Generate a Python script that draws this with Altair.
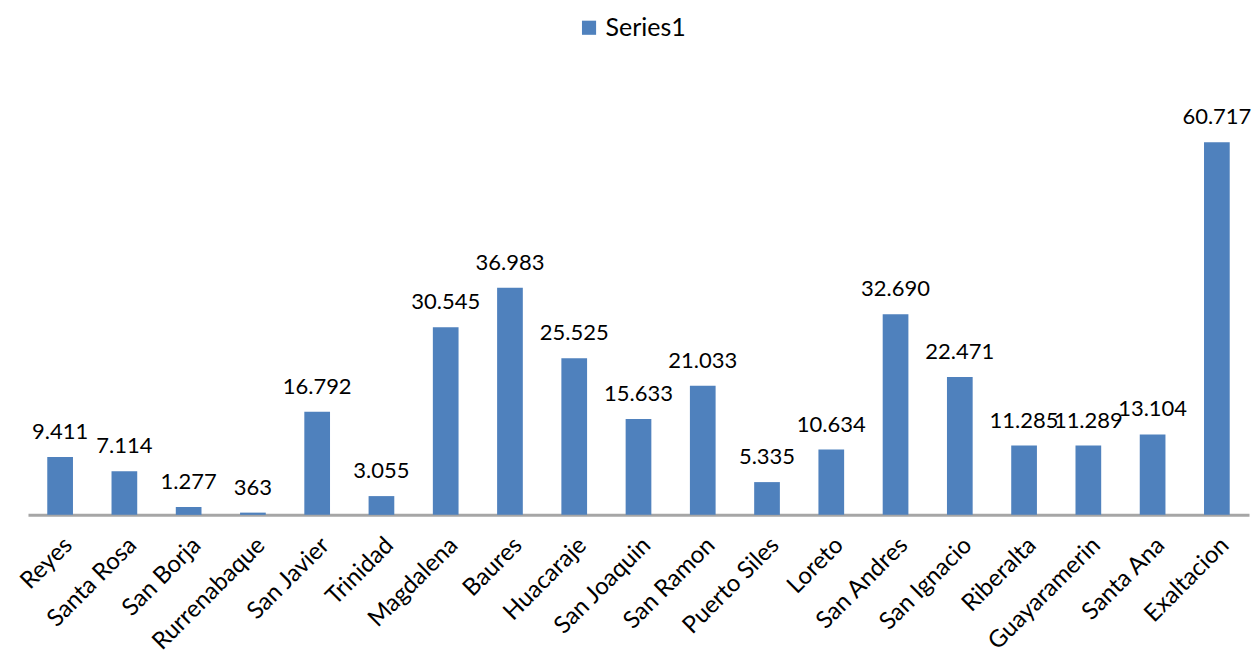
import altair as alt
import pandas as pd

categories = ["Reyes", "Santa Rosa", "San Borja", "Rurrenabaque", "San Javier", "Trinidad",
              "Magdalena", "Baures", "Huacaraje", "San Joaquin", "San Ramon", "Puerto Siles",
              "Loreto", "San Andres", "San Ignacio", "Riberalta", "Guayaramerin", "Santa Ana",
              "Exaltacion"]
values = [9411, 7114, 1277, 363, 16792, 3055, 30545, 36983, 25525, 15633, 21033, 5335,
          10634, 32690, 22471, 11285, 11289, 13104, 60717]
series = ["Series1"] * len(categories)

df = pd.DataFrame({
    "cat": categories,
    "val": values,
    "series": series,
    "label": [f"{v:,}".replace(",", ".") for v in values],
})

FONT = "Lato"
x = alt.X("cat:N", sort=categories, title=None,
          scale=alt.Scale(paddingInner=0.6, paddingOuter=0.3),
          axis=alt.Axis(labelAngle=-45, labelFontSize=24, labelFont=FONT, labelColor="#000000",
                        ticks=False, domainColor="#A6A6A6", domainWidth=3, labelPadding=18,
                        labelLimit=300))
y = alt.Y("val:Q", title=None, axis=None, scale=alt.Scale(domain=[0, 70000], nice=False))

bars = alt.Chart(df).mark_bar().encode(
    x=x, y=y,
    color=alt.Color("series:N", scale=alt.Scale(range=["#4F81BD"]),
                    legend=alt.Legend(title=None, orient="none", legendX=549, legendY=-70,
                                      labelFont=FONT, labelFontSize=25, labelColor="#000000",
                                      symbolType="square", symbolSize=200, symbolStrokeWidth=0,
                                      symbolOpacity=1)),
)

text = alt.Chart(df).mark_text(baseline="bottom", dy=-13, fontSize=22, font=FONT, color="#000000").encode(
    x=alt.X("cat:N", sort=categories), y="val:Q", text="label:N"
)

chart = (bars + text).properties(
    width=1222, height=430,
    padding={"left": 8, "top": 7, "right": 0, "bottom": 0},
).configure_view(stroke=None)

chart.save("out.html", embed_options={"renderer": "svg", "actions": False})
